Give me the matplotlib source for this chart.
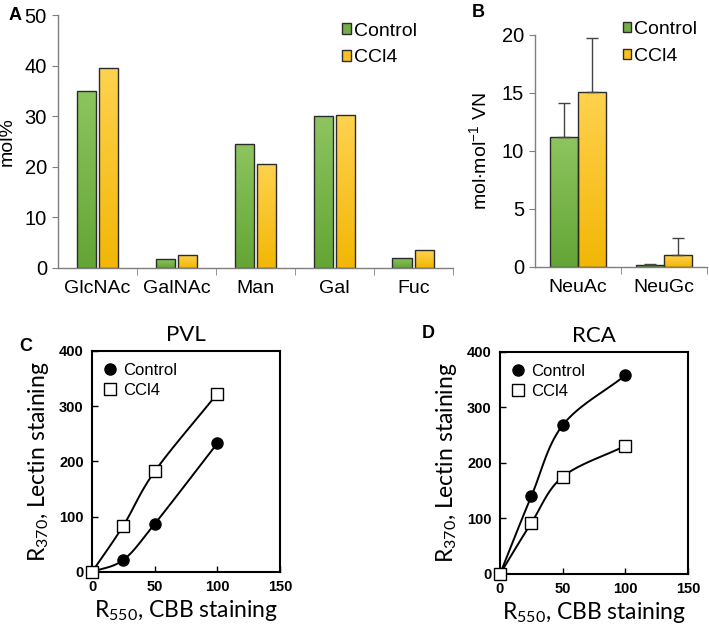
import numpy as np
import matplotlib
matplotlib.use("Agg")
import matplotlib.pyplot as plt
from matplotlib.lines import Line2D
from matplotlib.patches import Patch
from matplotlib.colors import LinearSegmentedColormap

# ==============================
# DATA
# ==============================

sugars_a = ["GlcNAc", "GalNAc", "Man", "Gal", "Fuc"]
control_a = [35.0, 1.7, 24.5, 30.0, 2.0]
ccl4_a = [39.5, 2.6, 20.5, 30.2, 3.5]

sugars_b = ["NeuAc", "NeuGc"]
control_b = [11.2, 0.2]
control_b_err = [2.9, 0.1]
ccl4_b = [15.1, 1.0]
ccl4_b_err = [4.6, 1.5]

cbb = [0, 25, 50, 100]
pvl_control = [0, 22, 87, 233]
pvl_ccl4 = [0, 84, 182, 323]
rca_control = [0, 140, 268, 358]
rca_ccl4 = [0, 92, 175, 231]

GREEN = "#72ae44"
YELLOW = "#fcc21c"
GREEN_CM = LinearSegmentedColormap.from_list("g", ["#64a536", "#8dc45f"])
YELLOW_CM = LinearSegmentedColormap.from_list("y", ["#f2b705", "#ffd24f"])
EDGE = "#2b2b2b"
SPINE = "#7f7f7f"
SANS = "Liberation Sans"
CAL = "Lato"


def smooth(xs, ys, n=30):
    # catmull-rom through the measured points (like Excel's smoothed line)
    xs = np.asarray(xs, float)
    ys = np.asarray(ys, float)
    px = np.concatenate([[2 * xs[0] - xs[1]], xs, [2 * xs[-1] - xs[-2]]])
    py = np.concatenate([[2 * ys[0] - ys[1]], ys, [2 * ys[-1] - ys[-2]]])
    ox, oy = [], []
    t = np.linspace(0, 1, n)
    for i in range(1, len(px) - 2):
        for arr, out in ((px, ox), (py, oy)):
            p0, p1, p2, p3 = arr[i - 1], arr[i], arr[i + 1], arr[i + 2]
            out.extend(0.5 * ((2 * p1) + (-p0 + p2) * t
                              + (2 * p0 - 5 * p1 + 4 * p2 - p3) * t ** 2
                              + (-p0 + 3 * p1 - 3 * p2 + p3) * t ** 3))
    return np.array(ox), np.array(oy)


def shade_bars(ax, bars, cmap):
    # vertical gradient inside each bar, lighter at the top
    grad = np.linspace(0, 1, 64).reshape(-1, 1)
    for b in bars:
        x0, y0 = b.get_x(), b.get_y()
        im = ax.imshow(grad, cmap=cmap, origin="lower", aspect="auto",
                       extent=(x0, x0 + b.get_width(), y0, y0 + b.get_height()),
                       zorder=b.get_zorder() - 0.1)
        im.set_clip_path(b)
        b.set_facecolor("none")


def style_bar_axes(ax, ncat):
    for side in ("top", "right"):
        ax.spines[side].set_visible(False)
    for side in ("left", "bottom"):
        ax.spines[side].set_color(SPINE)
        ax.spines[side].set_linewidth(1.0)
    ax.set_xlim(-0.5, ncat - 0.5)
    ax.set_xticks(np.arange(ncat))
    ax.set_xticks(np.arange(ncat) + 0.5, minor=True)
    ax.tick_params(axis="x", which="major", length=0, pad=9, labelsize=14)
    ax.tick_params(axis="x", which="minor", length=5, color=SPINE, direction="out")
    ax.tick_params(axis="y", length=4, color=SPINE, direction="out", labelsize=14.5, pad=4)
    for lab in ax.get_xticklabels() + ax.get_yticklabels():
        lab.set_fontfamily(SANS)


def bar_legend(ax, x, y):
    handles = [Patch(facecolor=GREEN, edgecolor=EDGE, label="Control"),
               Patch(facecolor=YELLOW, edgecolor=EDGE, label="CCl4")]
    ax.legend(handles=handles, loc="upper left", bbox_to_anchor=(x, y),
              frameon=False, handlelength=0.45, handleheight=0.45,
              handletextpad=0.15, labelspacing=0.5, borderaxespad=0,
              borderpad=0, prop={"family": SANS, "size": 14})


def style_line_axes(ax, title, control, ccl4):
    cx, cy = smooth(cbb, control)
    qx, qy = smooth(cbb, ccl4)
    ax.plot(cx, cy, color="black", lw=1.4, zorder=2)
    ax.plot(qx, qy, color="black", lw=1.4, zorder=2)
    ax.plot(cbb, control, "o", color="black", ms=8, zorder=3)
    ax.plot(cbb, ccl4, "s", mfc="white", mec="black", mew=1.0, ms=9, zorder=4,
            clip_on=False)
    ax.set_xlim(0, 150)
    ax.set_ylim(0, 400)
    ax.set_xticks([0, 50, 100, 150])
    ax.set_yticks([0, 100, 200, 300, 400])
    ax.tick_params(direction="in", length=4, width=1, labelsize=10.5, pad=6)
    for lab in ax.get_xticklabels() + ax.get_yticklabels():
        lab.set_fontfamily(SANS)
        lab.set_fontweight("bold")
    for sp in ax.spines.values():
        sp.set_linewidth(1.5)
    ax.set_title(title, fontfamily=CAL, fontsize=16, pad=7)
    ax.set_xlabel(r"$\mathregular{R_{550}}$, CBB staining", fontfamily=CAL,
                  fontsize=16.5, labelpad=3)
    ax.set_ylabel(r"$\mathregular{R_{370}}$, Lectin staining", fontfamily=CAL,
                  fontsize=16.5, labelpad=6)
    handles = [Line2D([], [], marker="o", ls="none", color="black", ms=8, label="Control"),
               Line2D([], [], marker="s", ls="none", mfc="white", mec="black",
                      mew=1.0, ms=8, label="CCl4")]
    ax.legend(handles=handles, loc="upper left", bbox_to_anchor=(0.05, 0.945),
              frameon=False, handlelength=1.0, handletextpad=0.3, labelspacing=0.3,
              borderaxespad=0, borderpad=0, prop={"family": SANS, "size": 12})


fig = plt.figure(figsize=(7.09, 6.26), dpi=100)

# ==============================
# PANEL A
# ==============================

ax_a = fig.add_axes([0.0818, 0.572, 0.557, 0.404])
xa = np.arange(len(sugars_a))
w = 0.245
bars_c = ax_a.bar(xa - w / 2 - 0.02, control_a, w, color=GREEN, edgecolor=EDGE, lw=1.0)
bars_t = ax_a.bar(xa + w / 2 + 0.02, ccl4_a, w, color=YELLOW, edgecolor=EDGE, lw=1.0)
shade_bars(ax_a, bars_c, GREEN_CM)
shade_bars(ax_a, bars_t, YELLOW_CM)
ax_a.set_ylim(0, 50)
ax_a.set_yticks(range(0, 51, 10))
ax_a.set_xticklabels(sugars_a)
style_bar_axes(ax_a, len(sugars_a))
ax_a.set_ylabel("mol%", fontfamily=SANS, fontsize=14, labelpad=6)
bar_legend(ax_a, 0.72, 0.97)

# ==============================
# PANEL B
# ==============================

ax_b = fig.add_axes([0.7546, 0.5735, 0.2426, 0.3706])
xb = np.arange(len(sugars_b))
wb = 0.33
bars_c = ax_b.bar(xb - wb / 2, control_b, wb, color=GREEN, edgecolor=EDGE, lw=1.0,
                  yerr=[[0, 0], control_b_err],
                  error_kw=dict(ecolor="#444444", lw=1, capsize=4))
bars_t = ax_b.bar(xb + wb / 2, ccl4_b, wb, color=YELLOW, edgecolor=EDGE, lw=1.0,
                  yerr=[[0, 0], ccl4_b_err],
                  error_kw=dict(ecolor="#444444", lw=1, capsize=4))
shade_bars(ax_b, bars_c, GREEN_CM)
shade_bars(ax_b, bars_t, YELLOW_CM)
ax_b.set_ylim(0, 20)
ax_b.set_yticks(range(0, 21, 5))
ax_b.set_xticklabels(sugars_b)
style_bar_axes(ax_b, len(sugars_b))
ax_b.set_ylabel(r"$\mathregular{mol{\cdot}mol^{-1}}$ VN", fontfamily=SANS,
                fontsize=14, labelpad=8)
bar_legend(ax_b, 0.51, 1.06)

# ==============================
# PANEL C / D
# ==============================

ax_c = fig.add_axes([0.1298, 0.0863, 0.2652, 0.353])
style_line_axes(ax_c, "PVL", pvl_control, pvl_ccl4)

ax_d = fig.add_axes([0.7052, 0.0831, 0.2652, 0.3546])
style_line_axes(ax_d, "RCA", rca_control, rca_ccl4)

# panel letters
for txt, x, y in (("A", 0.012, 0.975), ("B", 0.665, 0.980),
                  ("C", 0.027, 0.447), ("D", 0.595, 0.468)):
    fig.text(x, y, txt, fontfamily=SANS, fontweight="bold", fontsize=13,
             ha="left", va="center")

fig.savefig("out.png", dpi=100)
